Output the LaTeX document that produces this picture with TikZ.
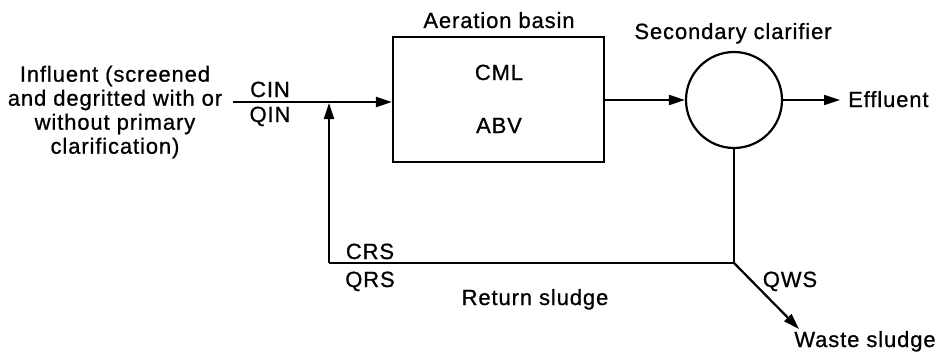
\documentclass[tikz,border=0pt]{standalone}
\usepackage{fontspec}
\setmainfont{Liberation Sans}[LetterSpace=4,FakeBold=0.8]
\usetikzlibrary{arrows.meta}
\begin{document}
\begin{tikzpicture}[x=1pt,y=-1pt,
  lbl/.style={font=\fontsize{22}{24}\selectfont, inner sep=0pt},
  flow/.style={line width=2.2pt},
  arr/.style={flow,-{Triangle[length=16pt,width=10pt]}}]
\useasboundingbox (0,0) rectangle (939,353);
% units
\node[draw, line width=2.2pt, minimum width=211pt, minimum height=125pt, inner sep=0pt] (basin) at (498.5,99.5) {};
\node[draw, circle, line width=2.2pt, minimum size=96pt, inner sep=0pt] (clar) at (734,100) {};
% texts
\node[lbl, align=center] (infl) at (115,112) {Influent (screened\\and degritted with or\\without primary\\clarification)};
\node[lbl, anchor=base] (aer) at (499,28) {Aeration basin};
\node[lbl, anchor=base] (cml) at (499,80) {CML};
\node[lbl, anchor=base] (abv) at (499,133) {ABV};
\node[lbl, anchor=base] (sec) at (733,39) {Secondary clarifier};
\node[lbl, anchor=base west] (efft) at (848,107) {Effluent};
\node[lbl, anchor=base] (cin) at (270,97) {CIN};
\node[lbl, anchor=base] (qin) at (270,122) {QIN};
\node[lbl, anchor=base] (crs) at (370,259) {CRS};
\node[lbl, anchor=base] (qrs) at (370,287) {QRS};
\node[lbl, anchor=base] (ret) at (535,305) {Return sludge};
\node[lbl, anchor=base] (qws) at (790,287) {QWS};
\node[lbl, anchor=base] (wst) at (865,347) {Waste sludge};
% connector points
\coordinate (in) at (233,102);
\coordinate (j) at (329,103);
\coordinate (rc) at (734,263);
\coordinate (rl) at (329,263);
\coordinate (eff) at (840,100);
\coordinate (ws) at (799,329);
% connectors
\draw[arr] (in) -- (in -| basin.west);
\draw[arr] (basin.east |- clar) -- (clar.west);
\draw[arr] (clar.east) -- (eff);
\draw[flow] (clar.south) -- (rc) -- (rl);
\draw[arr] (rl) -- (j);
\draw[arr] (rc) -- (ws);
\end{tikzpicture}
\end{document}
